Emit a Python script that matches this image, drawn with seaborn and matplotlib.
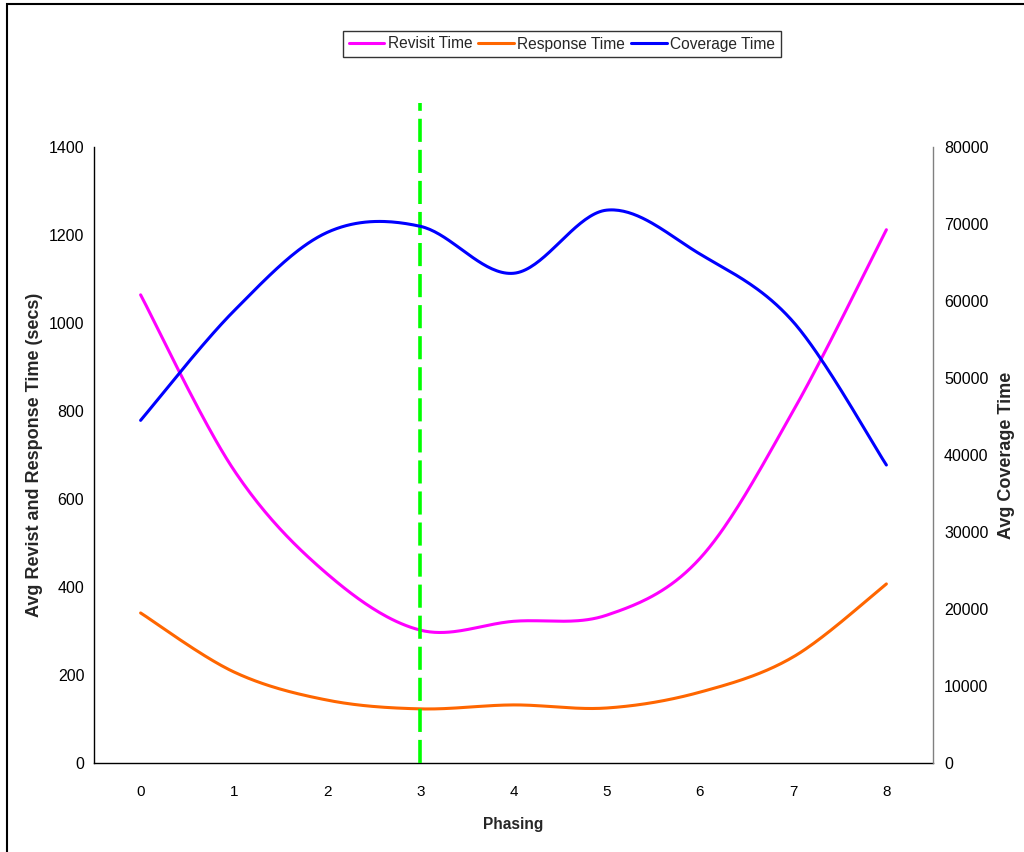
import numpy as np
import pandas as pd
import matplotlib
matplotlib.use("Agg")
import matplotlib.pyplot as plt
from matplotlib.lines import Line2D
from matplotlib.patches import Rectangle
import seaborn as sns

phasing = [0, 1, 2, 3, 4, 5, 6, 7, 8]
revisit = [1064, 666, 430, 302, 322, 336, 465, 800, 1212]
response = [341, 207, 143, 123, 132, 125, 161, 241, 407]
coverage = [44500, 58700, 68900, 69700, 63600, 71800, 66100, 57300, 38700]
marker_phase = 3

sns.set_theme(style="white")
plt.rcParams['font.family'] = ['Liberation Sans', 'DejaVu Sans']


def smooth(xs, ys, n=40):
    """Excel-style smoothed line: cubic Bezier segments with Catmull-Rom control points."""
    xs = np.asarray(xs, float)
    ys = np.asarray(ys, float)
    P = np.column_stack([xs, ys])
    Pe = np.vstack([P[0], P, P[-1]])
    out = []
    t = np.linspace(0, 1, n)[:, None]
    for i in range(len(P) - 1):
        p0, p1, p2, p3 = Pe[i], Pe[i + 1], Pe[i + 2], Pe[i + 3]
        c1 = p1 + (p2 - p0) / 6.0
        c2 = p2 - (p3 - p1) / 6.0
        seg = ((1 - t) ** 3) * p1 + 3 * ((1 - t) ** 2) * t * c1 + 3 * (1 - t) * t ** 2 * c2 + t ** 3 * p2
        out.append(seg if i == 0 else seg[1:])
    S = np.vstack(out)
    return S[:, 0], S[:, 1]


fig = plt.figure(figsize=(10.24, 8.52), dpi=100)
ax = fig.add_axes([94 / 1024, 89 / 852, (933 - 94) / 1024, (763 - 147) / 852])
ax2 = ax.twinx()

c_rev, c_resp, c_cov = "#FF00FF", "#FF6600", "#0000FF"

for vals, col, a in [(revisit, c_rev, ax), (response, c_resp, ax), (coverage, c_cov, ax2)]:
    sx, sy = smooth(phasing, vals)
    df = pd.DataFrame({"x": sx, "y": sy})
    sns.lineplot(data=df, x="x", y="y", ax=a, color=col, lw=2.2, sort=False,
                 estimator=None, legend=False)

ax.axvline(marker_phase, ymin=0, ymax=(763 - 103) / (763 - 147), color="#00FF00",
           lw=2.6, dashes=(6.4, 2.2), clip_on=False, zorder=5)

ax.set_xlim(-0.5, 8.5)
ax.set_ylim(0, 1400)
ax2.set_ylim(0, 80000)
ax.set_xticks(phasing)
ax.set_xticklabels([str(p) for p in phasing])
ax.set_yticks(np.arange(0, 1401, 200))
ax2.set_yticks(np.arange(0, 80001, 10000))

for a in (ax, ax2):
    a.grid(False)
    a.spines["top"].set_visible(False)
    a.tick_params(length=0, labelsize=11.5, colors="#000000")
ax.tick_params(axis="x", labelsize=11)
ax.spines["left"].set_color("#000000")
ax.spines["bottom"].set_color("#000000")
ax.spines["right"].set_visible(False)
ax2.spines["right"].set_color("#808080")
ax2.spines["left"].set_visible(False)
ax2.spines["bottom"].set_visible(False)
for s in ("left", "bottom"):
    ax.spines[s].set_linewidth(1.0)
ax2.spines["right"].set_linewidth(1.0)

ax.tick_params(axis="x", pad=16)
ax.tick_params(axis="y", pad=7)
ax2.tick_params(axis="y", pad=8)

ax.set_xlabel("Phasing", fontsize=11.2, fontweight="bold", labelpad=13)
ax.set_ylabel("Avg Revist and Response Time (secs)", fontsize=13, fontweight="bold", labelpad=4)
ax2.set_ylabel("Avg Coverage Time", fontsize=13, fontweight="bold", labelpad=7)

handles = [Line2D([], [], color=c_rev, lw=2.2),
           Line2D([], [], color=c_resp, lw=2.2),
           Line2D([], [], color=c_cov, lw=2.2)]
leg = fig.legend(handles, ["Revisit Time", "Response Time", "Coverage Time"],
                 loc="center", bbox_to_anchor=(562 / 1024, 1 - 44 / 852), ncol=3,
                 frameon=True, fancybox=False, fontsize=11.2, handlelength=2.3,
                 handletextpad=0.2, columnspacing=0.4, borderpad=0.35,
                 edgecolor="#000000")
leg.get_frame().set_linewidth(1.0)

fig.patches.append(Rectangle((7 / 1024, -0.1), 1.2, 1 - 4 / 852 + 0.1,
                             transform=fig.transFigure, fill=False,
                             edgecolor="#000000", lw=1.5))

fig.savefig("out.png", dpi=100, facecolor="white")
